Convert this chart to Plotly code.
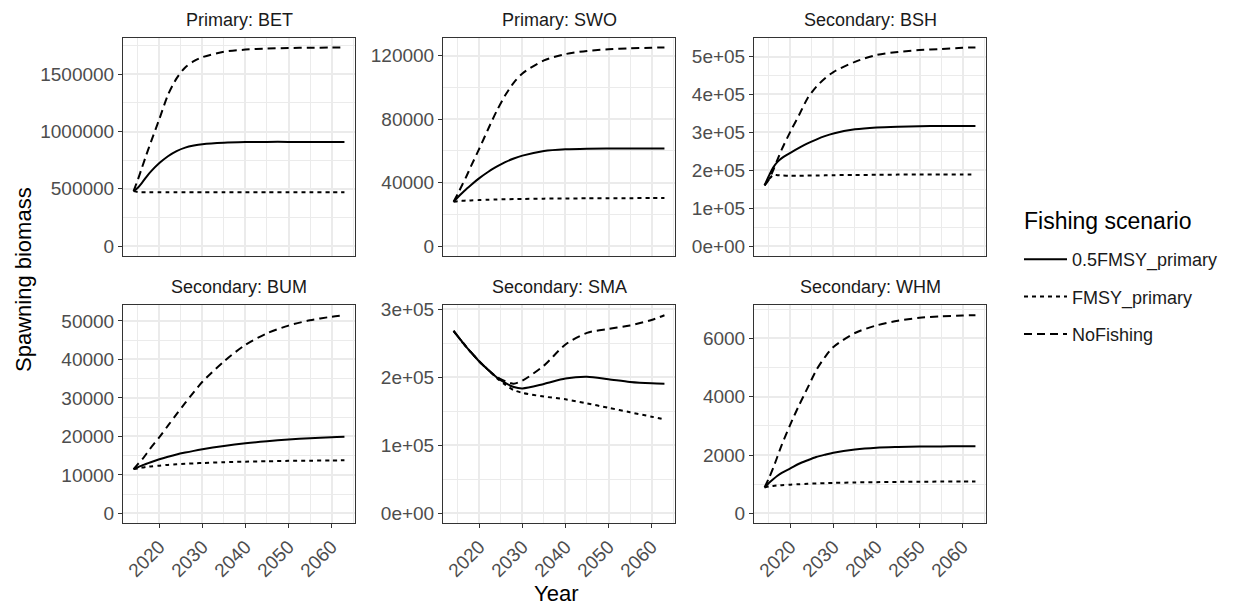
import plotly.graph_objects as go

# ---------------- data ----------------
years = [2014, 2015, 2016, 2017, 2018, 2020, 2022, 2024, 2026, 2028, 2030,
         2035, 2040, 2045, 2050, 2055, 2060, 2063]

panels = ["Primary: BET", "Primary: SWO", "Secondary: BSH",
          "Secondary: BUM", "Secondary: SMA", "Secondary: WHM"]
scenarios = ["0.5FMSY_primary", "FMSY_primary", "NoFishing"]

bet_half = [480000, 510000, 555000, 605000, 650000, 725000, 785000, 830000, 860000,
            878000, 890000, 903000, 908000, 910000, 910000, 910000, 910000, 910000]
bet_fmsy = [480000, 472000, 471000, 471000, 471000, 471000, 471000, 471000, 471000,
            471000, 471000, 471000, 471000, 471000, 471000, 471000, 471000, 471000]
bet_nofish = [480000, 580000, 690000, 800000, 905000, 1110000, 1320000, 1465000, 1560000,
              1615000, 1650000, 1697000, 1716000, 1725000, 1730000, 1732000, 1734000, 1735000]

swo_half = [28000, 30800, 33500, 36000, 38400, 42800, 46700, 50000, 52900,
            55200, 57000, 59900, 61000, 61400, 61500, 61500, 61500, 61500]
swo_fmsy = [28000, 28300, 28500, 28700, 28800, 29000, 29200, 29400, 29500,
            29600, 29700, 29900, 30000, 30100, 30200, 30200, 30300, 30300]
swo_nofish = [28000, 33000, 38500, 44000, 50000, 61500, 73500, 85000, 95000,
              103000, 108800, 117000, 121000, 123000, 124000, 124600, 125000, 125200]

bsh_half = [160000, 185000, 207000, 222000, 232000, 246000, 259000, 271000, 281000,
            290000, 297000, 308000, 313000, 315000, 316000, 317000, 317000, 317000]
bsh_fmsy = [160000, 176000, 187000, 187000, 186000, 185500, 185500, 186000, 186000,
            186500, 187000, 187500, 188000, 188500, 189000, 189000, 189000, 189000]
bsh_nofish = [160000, 175000, 200000, 228000, 255000, 302000, 345000, 390000, 420000,
              442000, 459000, 486000, 504000, 512000, 517000, 520000, 523000, 524000]

bum_half = [11500, 12000, 12450, 12900, 13300, 14050, 14700, 15300, 15800,
            16250, 16650, 17500, 18200, 18750, 19200, 19550, 19800, 19900]
bum_fmsy = [11500, 11700, 11900, 12100, 12200, 12400, 12600, 12750, 12900,
            13000, 13100, 13300, 13450, 13550, 13650, 13700, 13750, 13800]
bum_nofish = [11500, 12800, 14000, 15500, 17000, 19800, 22800, 25800, 28700,
              31500, 34200, 39500, 43800, 46800, 48800, 50200, 51100, 51500]

sma_half = [268000, 260000, 252000, 244000, 237000, 223000, 211000, 200000, 191500,
            185500, 183500, 190000, 198000, 200500, 197000, 193000, 191000, 190500]
sma_fmsy = [268000, 260000, 252000, 244000, 237000, 223000, 211000, 199000, 189000,
            181000, 177000, 171500, 167500, 161500, 155000, 148500, 142000, 138000]
sma_nofish = [268000, 260000, 252000, 244000, 237000, 223000, 211000, 200500, 194000,
              190500, 195000, 217000, 248000, 265000, 271000, 276000, 284000, 291000]

whm_half = [890, 1040, 1170, 1290, 1390, 1540, 1700, 1820, 1930,
            2010, 2080, 2190, 2250, 2275, 2290, 2295, 2300, 2300]
whm_fmsy = [890, 920, 940, 955, 965, 985, 1000, 1015, 1025,
            1035, 1045, 1060, 1070, 1080, 1085, 1090, 1090, 1090]
whm_nofish = [890, 1200, 1550, 1950, 2350, 3050, 3700, 4300, 4900,
              5350, 5700, 6180, 6440, 6600, 6700, 6750, 6780, 6790]

series = [
    [bet_half, bet_fmsy, bet_nofish],
    [swo_half, swo_fmsy, swo_nofish],
    [bsh_half, bsh_fmsy, bsh_nofish],
    [bum_half, bum_fmsy, bum_nofish],
    [sma_half, sma_fmsy, sma_nofish],
    [whm_half, whm_fmsy, whm_nofish],
]

ytickvals = [
    [0, 500000, 1000000, 1500000],
    [0, 40000, 80000, 120000],
    [0, 100000, 200000, 300000, 400000, 500000],
    [0, 10000, 20000, 30000, 40000, 50000],
    [0, 100000, 200000, 300000],
    [0, 2000, 4000, 6000],
]
yticktext = [
    ["0", "500000", "1000000", "1500000"],
    ["0", "40000", "80000", "120000"],
    ["0e+00", "1e+05", "2e+05", "3e+05", "4e+05", "5e+05"],
    ["0", "10000", "20000", "30000", "40000", "50000"],
    ["0e+00", "1e+05", "2e+05", "3e+05"],
    ["0", "2000", "4000", "6000"],
]
yminor = [250000, 20000, 50000, 5000, 50000, 1000]
xtickvals = [2020, 2030, 2040, 2050, 2060]
xticktext = ["2020", "2030", "2040", "2050", "2060"]

# ---------------- styling / layout ----------------
OFF = 8  # page body margin
W, H = 1237 - OFF, 608 - OFF
FONT = "Liberation Sans, Arial, sans-serif"
col_px = [(123, 355), (443, 675), (754, 986)]
row_px = [(37.5, 256), (305.3, 523.3)]
dash_styles = {"0.5FMSY_primary": "solid", "FMSY_primary": "4px,4px",
               "NoFishing": "8px,5px"}


def fx(px):
    return (px - OFF) / W


def fy(py):
    return 1 - (py - OFF) / H


fig = go.Figure()
layout = dict(
    width=W, height=H,
    margin=dict(l=0, r=0, t=0, b=0),
    paper_bgcolor="white", plot_bgcolor="white",
    font=dict(family=FONT, size=18, color="#1A1A1A"),
    showlegend=True,
    legend=dict(
        x=fx(1019), xanchor="left", y=fy(241), yanchor="top",
        font=dict(size=18, color="#1A1A1A"),
        tracegroupgap=11, itemwidth=43, bgcolor="rgba(0,0,0,0)",
    ),
)

x_lo = min(years) - 0.05 * (max(years) - min(years))
x_hi = max(years) + 0.05 * (max(years) - min(years))

annotations = []
for i, title in enumerate(panels):
    r, c = divmod(i, 3)
    n = i + 1
    xa = "xaxis" if n == 1 else f"xaxis{n}"
    ya = "yaxis" if n == 1 else f"yaxis{n}"
    xr = "x" if n == 1 else f"x{n}"
    yr = "y" if n == 1 else f"y{n}"

    allv = [v for s in series[i] for v in s]
    ymax = max(allv)
    ymin = min(0, min(allv))
    span = ymax - ymin

    for k, sc in enumerate(scenarios):
        fig.add_trace(go.Scatter(
            x=years, y=series[i][k], mode="lines", name=sc,
            legendgroup=sc, showlegend=(i == 0),
            line=dict(color="black", width=2, dash=dash_styles[sc],
                      shape="spline", smoothing=0.8),
            xaxis=xr, yaxis=yr,
        ))

    x0, x1 = col_px[c]
    y0, y1 = row_px[r]
    layout[xa] = dict(
        domain=[fx(x0), fx(x1)], anchor=yr, range=[x_lo, x_hi],
        tickmode="array", tickvals=xtickvals, ticktext=xticktext,
        showticklabels=(r == 1), ticks="outside" if r == 1 else "",
        ticklen=4, tickcolor="#333333", tickwidth=1, tickangle=-45,
        tickfont=dict(size=19, color="#4D4D4D"),
        showgrid=True, gridcolor="#EBEBEB", gridwidth=1.5,
        minor=dict(tickmode="linear", tick0=2015, dtick=10, showgrid=True,
                   gridcolor="#EBEBEB", gridwidth=0.8, ticks=""),
        showline=True, mirror=True, linecolor="#333333", linewidth=1,
        zeroline=False, automargin=False,
    )
    layout[ya] = dict(
        domain=[fy(y1), fy(y0)], anchor=xr,
        range=[ymin - 0.05 * span, ymax + 0.05 * span],
        tickmode="array", tickvals=ytickvals[i], ticktext=yticktext[i],
        ticks="outside", ticklen=4, tickcolor="#333333", tickwidth=1,
        tickfont=dict(size=19, color="#4D4D4D"),
        showgrid=True, gridcolor="#EBEBEB", gridwidth=1.5,
        minor=dict(tickmode="linear", tick0=yminor[i], dtick=2 * yminor[i],
                   showgrid=True, gridcolor="#EBEBEB", gridwidth=0.8, ticks=""),
        showline=True, mirror=True, linecolor="#333333", linewidth=1,
        zeroline=False, automargin=False,
    )
    annotations.append(dict(
        text=title, xref=f"{xr} domain", yref=f"{yr} domain", x=0.5, y=1,
        xanchor="center", yanchor="bottom", yshift=6, showarrow=False,
        font=dict(size=18, color="#1A1A1A"),
    ))

annotations.append(dict(
    text="Year", xref="paper", yref="paper", x=fx(556), y=fy(593),
    xanchor="center", yanchor="middle", showarrow=False,
    font=dict(size=22, color="#000000"),
))
annotations.append(dict(
    text="Spawning biomass", xref="paper", yref="paper", x=fx(23), y=fy(280),
    xanchor="center", yanchor="middle", showarrow=False, textangle=-90,
    font=dict(size=22, color="#000000"),
))
annotations.append(dict(
    text="Fishing scenario", xref="paper", yref="paper", x=fx(1022), y=fy(221),
    xanchor="left", yanchor="middle", showarrow=False,
    font=dict(size=23, color="#000000"),
))
layout["annotations"] = annotations
fig.update_layout(**layout)
fig.write_html("out.html")
